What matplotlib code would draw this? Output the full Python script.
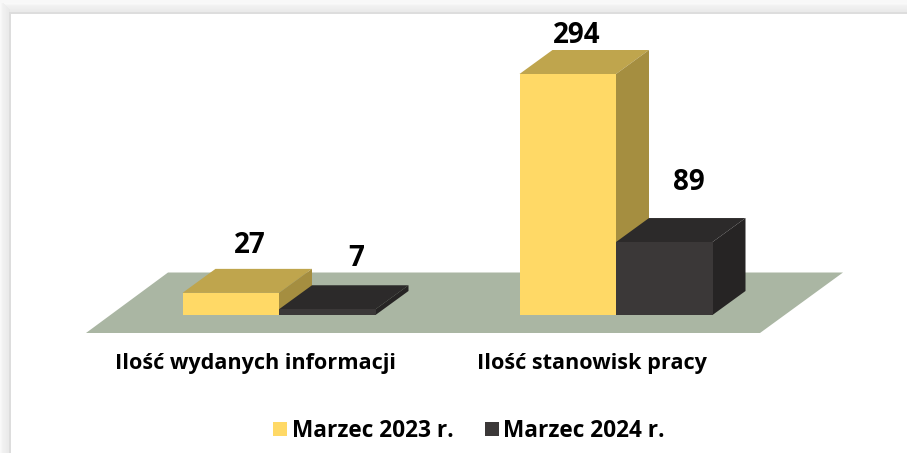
import matplotlib
matplotlib.use("Agg")
import matplotlib.pyplot as plt
import numpy as np
from matplotlib.patches import Rectangle

categories = ["Ilość wydanych informacji", "Ilość stanowisk pracy"]
series_names = ["Marzec 2023 r.", "Marzec 2024 r."]
values_2023 = [27, 294]
values_2024 = [7, 89]

FRONT = ["#FFD966", "#3B3838"]
TOP = ["#BFA54D", "#2C2A2A"]
SIDE = ["#A58E40", "#262424"]
FLOOR = "#AAB6A3"

plt.rcParams["font.family"] = ["Open Sans", "DejaVu Sans"]
W, H = 907, 453
fig = plt.figure(figsize=(W / 100, H / 100), dpi=100, facecolor="white")

# page frame: soft grey gradient along top and left edges
bg = fig.add_axes([0, 0, 1, 1], zorder=0)
bg.set_xlim(0, W); bg.set_ylim(H, 0); bg.axis("off")
bg.add_patch(Rectangle((0, 0), W, H, fc="#F2F2F2", ec="none"))
for i, c in enumerate(["#F9F9F9", "#F6F6F6", "#F2F2F2", "#F0F0F0", "#EFEFEF", "#EEEEEE", "#ECECEC", "#EBEBEB", "#EAEAEA", "#E8E8E8"]):
    bg.add_patch(Rectangle((i, i), 1, H, fc=c, ec="none"))
    bg.add_patch(Rectangle((i, i + 3), W, 1, fc=c, ec="none"))
bg.add_patch(Rectangle((0, 0), W, 3, fc="#F8F8F8", ec="none"))
bg.add_patch(Rectangle((9.5, 12.5), W, H, fc="white", ec="#DDDDDD", lw=1.4))

# plotting axes: bottom at the floor's front edge (pixel y = 333)
Y0, PX_Y = 315, 241 / 294
X0, PX_X = 255, 337
ax_bottom = 333
ax = fig.add_axes([0, 1 - ax_bottom / H, 1, ax_bottom / H], zorder=1)
ax.patch.set_alpha(0)
ax.set_xlim(-X0 / PX_X, (W - X0) / PX_X)
ax.set_ylim(-(ax_bottom - Y0) / PX_Y, Y0 / PX_Y)
for s in ax.spines.values():
    s.set_visible(False)

dx, dy = 33 / PX_X, 24 / PX_Y      # depth of the 3-D boxes
bar_w = 96.5 / PX_X
shift = 24 / PX_X                   # boxes sit right of the category centre
x = np.arange(len(categories))

# floor
fx = lambda px: (px - X0) / PX_X
fy = lambda py: (Y0 - py) / PX_Y
ax.fill([fx(86), fx(168), fx(843), fx(760)], [fy(333), fy(272.5), fy(272.5), fy(333)],
        fc=FLOOR, ec="none", zorder=1, clip_on=False)

# value label placement relative to the top-centre of each front face (pixels)
label_dx = [[19, 9], [28.5, 24.5]]
label_dy = [[40, 31], [43, 52]]

handles = []
for s, vals in enumerate([values_2023, values_2024]):
    lefts = x + shift - bar_w + s * bar_w
    z = 2 + s * 3
    for left, v in zip(lefts, vals):
        ax.fill([left, left + dx, left + bar_w + dx, left + bar_w],
                [v, v + dy, v + dy, v], fc=TOP[s], ec="none", zorder=z)
        ax.fill([left + bar_w, left + bar_w + dx, left + bar_w + dx, left + bar_w],
                [0, dy, v + dy, v], fc=SIDE[s], ec="none", zorder=z)
    b = ax.bar(lefts, vals, width=bar_w, align="edge", color=FRONT[s], zorder=z + 1,
               label=series_names[s])
    handles.append(b)
    for i, (left, v) in enumerate(zip(lefts, vals)):
        ax.annotate(str(v), (left + bar_w / 2, v),
                    xytext=(label_dx[s][i], label_dy[s][i]), textcoords="offset pixels",
                    ha="center", va="baseline", fontsize=20, fontweight="bold",
                    color="black", zorder=10, annotation_clip=False)

ax.set_yticks([])
ax.set_xticks(x, categories, fontsize=15.6, fontweight="bold", color="black")
ax.tick_params(axis="x", length=0, pad=14.7)

fig.legend(handles, series_names, loc="center", bbox_to_anchor=(469 / W, 1 - 431 / H),
           ncol=2, frameon=False, prop={"size": 16.3, "weight": "bold"},
           handlelength=0.62, handleheight=0.62, handletextpad=0.2, columnspacing=1.4,
           borderpad=0)

fig.savefig("out.png", dpi=100)
